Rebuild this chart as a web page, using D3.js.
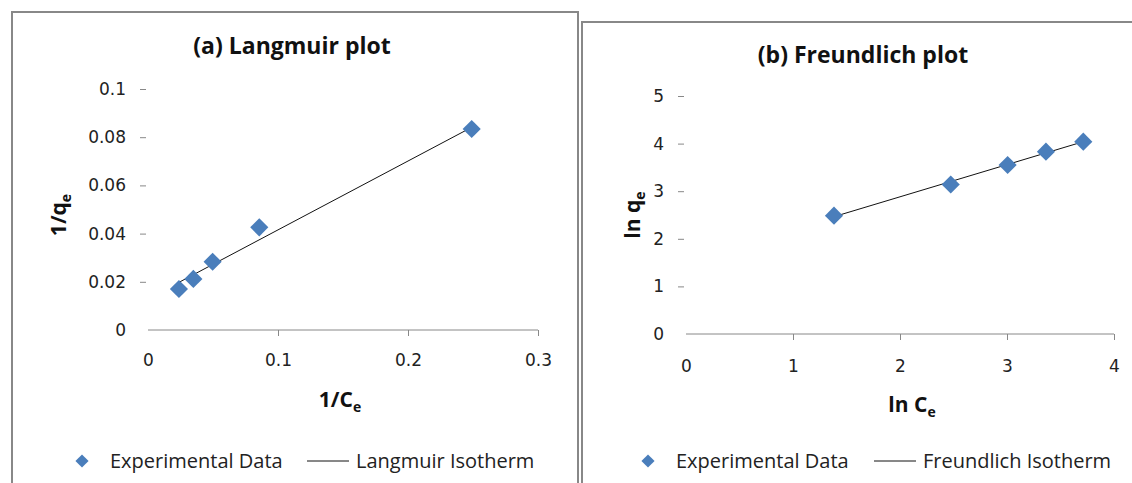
<!DOCTYPE html>
<html>
<head>
<meta charset="utf-8">
<script src="https://cdn.jsdelivr.net/npm/d3@7"></script>
<style>
  body { margin: 0; background: #fff; }
  svg { display: block; }
</style>
</head>
<body>
<script>
// isotherm plots
const W = 1132, H = 483;
const blue = "#4a7ebb";
const font = "'Open Sans', Lato, sans-serif";
const tickFont = "'DejaVu Sans', sans-serif";

// (a) Langmuir
const langX = [0.0238, 0.0349, 0.0497, 0.0856, 0.249];
const langY = [0.0170, 0.0212, 0.0283, 0.0426, 0.0834];
const langFitX = [0.0246, 0.25];
const langFitY = [0.0200, 0.0844];
const langXTicks = [0, 0.1, 0.2, 0.3];
const langYTicks = [0, 0.02, 0.04, 0.06, 0.08, 0.1];

// (b) Freundlich
const freuX = [1.383, 2.474, 3.006, 3.364, 3.713];
const freuY = [2.486, 3.14, 3.55, 3.83, 4.04];
const freuFitX = [1.383, 3.713];
const freuFitY = [2.465, 4.04];
const freuXTicks = [0, 1, 2, 3, 4];
const freuYTicks = [0, 1, 2, 3, 4, 5];

let svg = d3.select("body").append("svg")
    .attr("width", W)
    .attr("height", H);

svg.append("rect").attr("width", W).attr("height", H).attr("fill", "#fff");

// panel frames
svg.append("rect")
    .attr("x", 12).attr("y", 12).attr("width", 566).attr("height", 500)
    .attr("fill", "none").attr("stroke", "#888").attr("stroke-width", 2);
svg.append("rect")
    .attr("x", 582).attr("y", 22).attr("width", 580).attr("height", 500)
    .attr("fill", "none").attr("stroke", "#888").attr("stroke-width", 2);

const diamond = d3.symbol().type(d3.symbolDiamond2).size(210);

function drawPanel(p) {
    let g = svg.append("g");
    let x = d3.scaleLinear().domain(p.xDomain).range([p.left, p.right]);
    let y = d3.scaleLinear().domain(p.yDomain).range([p.bottom, p.top]);

    // x axis
    let xa = g.append("g")
        .attr("transform", `translate(0,${p.bottom})`)
        .call(d3.axisBottom(x).tickValues(p.xTicks).tickSize(6).tickPadding(p.xPad)
            .tickFormat(d3.format("~g")));
    xa.select(".domain").attr("stroke", "#888").attr("d", `M${p.left},0H${p.right}`);
    xa.selectAll(".tick line").attr("stroke", "#888").attr("y2", d => d === 0 ? 0 : 6);
    xa.selectAll(".tick text").attr("font-family", tickFont).attr("font-size", 17).attr("fill", "#222");

    // y axis (ticks only)
    let ya = g.append("g")
        .attr("transform", `translate(${p.left},0)`)
        .call(d3.axisLeft(y).tickValues(p.yTicks).tickSize(8).tickPadding(p.yPad)
            .tickFormat(d3.format("~g")));
    ya.select(".domain").remove();
    ya.selectAll(".tick line").attr("stroke", "#888").attr("x1", -2).attr("x2", -8)
        .attr("opacity", d => d === 0 ? 0 : 1);
    ya.selectAll(".tick text").attr("font-family", tickFont).attr("font-size", 17).attr("fill", "#222");

    // fit line
    let fit = p.fitX.map((v, i) => [v, p.fitY[i]]);
    g.append("path")
        .datum(fit)
        .attr("d", d3.line().x(d => x(d[0])).y(d => y(d[1])))
        .attr("stroke", "#111").attr("stroke-width", 1).attr("fill", "none");

    // data points
    g.selectAll(".pt")
        .data(p.xs.map((v, i) => [v, p.ys[i]]))
        .enter()
        .append("path")
        .attr("d", diamond)
        .attr("transform", d => `translate(${x(d[0])},${y(d[1])})`)
        .attr("fill", blue);

    // title
    g.append("text")
        .attr("x", p.titleX).attr("y", p.titleY)
        .attr("text-anchor", "middle")
        .attr("font-family", font).attr("font-weight", "bold").attr("font-size", 23)
        .attr("fill", "#111")
        .text(p.title);

    // axis titles with subscript e
    let xt = g.append("text")
        .attr("x", p.xTitleX).attr("y", p.xTitleY)
        .attr("text-anchor", "middle")
        .attr("font-family", font).attr("font-weight", "bold").attr("font-size", 21)
        .attr("fill", "#111");
    xt.append("tspan").text(p.xLabel);
    xt.append("tspan").attr("font-size", 14).attr("dy", 5).text("e");

    let yt = g.append("text")
        .attr("transform", `translate(${p.yTitleX},${p.yTitleY}) rotate(-90)`)
        .attr("text-anchor", "middle")
        .attr("font-family", font).attr("font-weight", "bold").attr("font-size", 21)
        .attr("fill", "#111");
    yt.append("tspan").text(p.yLabel);
    yt.append("tspan").attr("font-size", 14).attr("dy", 5).text("e");

    // legend
    let lg = g.append("g").attr("transform", `translate(${p.legX},461)`);
    lg.append("path").attr("d", d3.symbol().type(d3.symbolDiamond2).size(110)).attr("fill", blue);
    lg.append("text").attr("x", 28).attr("y", 7)
        .attr("font-family", font).attr("font-size", 20).attr("fill", "#222")
        .text("Experimental Data");
    lg.append("line").attr("x1", p.legLine).attr("x2", p.legLine + 42)
        .attr("stroke", "#111").attr("stroke-width", 1);
    lg.append("text").attr("x", p.legLine + 49).attr("y", 7)
        .attr("font-family", font).attr("font-size", 20).attr("fill", "#222")
        .text(p.fitName);
}

drawPanel({
    xs: langX, ys: langY, fitX: langFitX, fitY: langFitY,
    xTicks: langXTicks, yTicks: langYTicks,
    xDomain: [0, 0.3], yDomain: [0, 0.1],
    left: 148, right: 538, top: 89, bottom: 330,
    xPad: 18, yPad: 14,
    title: "(a) Langmuir plot", titleX: 292, titleY: 54,
    xLabel: "1/C", xTitleX: 340, xTitleY: 407,
    yLabel: "1/q", yTitleX: 66, yTitleY: 215,
    legX: 82, legLine: 225, fitName: "Langmuir Isotherm"
});

drawPanel({
    xs: freuX, ys: freuY, fitX: freuFitX, fitY: freuFitY,
    xTicks: freuXTicks, yTicks: freuYTicks,
    xDomain: [0, 4], yDomain: [0, 5],
    left: 686, right: 1114, top: 96, bottom: 334,
    xPad: 20, yPad: 14,
    title: "(b) Freundlich plot", titleX: 863, titleY: 63,
    xLabel: "ln C", xTitleX: 912, xTitleY: 412,
    yLabel: "ln q", yTitleX: 640, yTitleY: 215,
    legX: 648, legLine: 226, fitName: "Freundlich Isotherm"
});
</script>
</body>
</html>
